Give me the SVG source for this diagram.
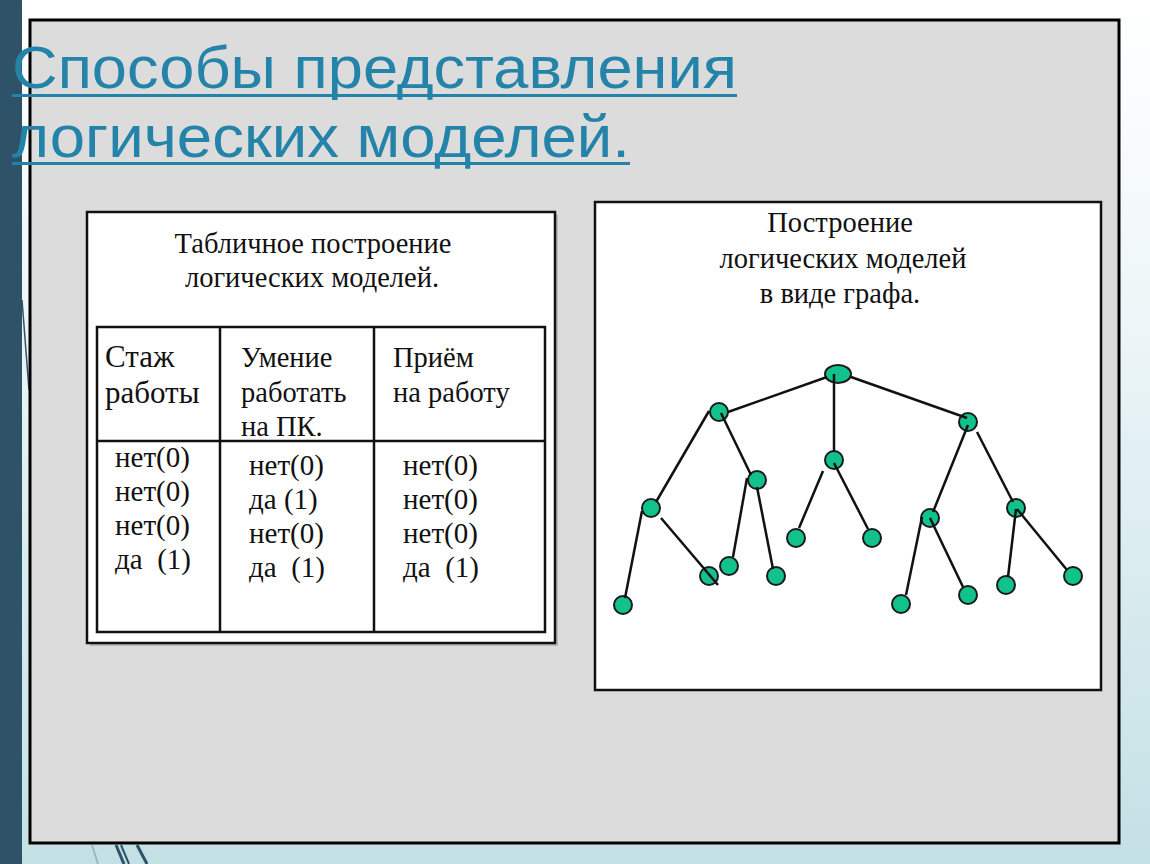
<svg xmlns="http://www.w3.org/2000/svg" width="1150" height="864" viewBox="0 0 1150 864">
<defs>
<linearGradient id="bg" x1="0" y1="0" x2="0" y2="1">
<stop offset="0" stop-color="#ffffff"/>
<stop offset="0.35" stop-color="#eef6f8"/>
<stop offset="1" stop-color="#c3e0e5"/>
</linearGradient>
<style>
.title{font-family:"Liberation Sans","DejaVu Sans",sans-serif;font-size:60px;fill:#2483a8}
.ser{font-family:"Liberation Serif","Times New Roman",serif;fill:#111;white-space:pre}
.cap{font-size:28.5px}
.hd{font-size:28.5px}
.hd1{font-size:31px}
.bd{font-size:29px}
.frame{fill:#fff;stroke:#111;stroke-width:2.5}
.grid{fill:none;stroke:#111;stroke-width:2.5}
.node{fill:#12c28c;stroke:#1a1a1a;stroke-width:2}
.edge{stroke:#111;stroke-width:2.5;fill:none}
</style>
</defs>
<rect x="0" y="0" width="1150" height="864" fill="url(#bg)"/>
<rect x="0" y="0" width="22" height="864" fill="#2e5369"/>
<line x1="22" y1="300" x2="29" y2="390" stroke="#2e5369" stroke-width="1.5"/>
<line x1="92" y1="845" x2="98" y2="864" stroke="#9fb8c2" stroke-width="2"/>
<line x1="116" y1="845" x2="124" y2="864" stroke="#2e5369" stroke-width="3"/>
<line x1="121" y1="845" x2="129" y2="864" stroke="#2e5369" stroke-width="2"/>
<line x1="137" y1="845" x2="147" y2="864" stroke="#2e5369" stroke-width="3"/>
<rect x="30" y="20" width="1089" height="823" fill="#dcdcdc" stroke="#000" stroke-width="3"/>

<g id="title">
<text class="title" x="12" y="88" textLength="725" lengthAdjust="spacingAndGlyphs">Способы представления</text>
<rect x="12" y="94" width="725" height="3" fill="#2483a8"/>
<text class="title" x="12" y="157" textLength="618" lengthAdjust="spacingAndGlyphs">логических моделей.</text>
<rect x="12" y="162" width="618" height="3" fill="#2483a8"/>
</g>

<g id="table-panel">
<rect x="90" y="215" width="468" height="431" fill="#b8b8b8"/>
<rect class="frame" x="87" y="212" width="468" height="431"/>
<text class="ser cap" x="313" y="253" text-anchor="middle">Табличное построение</text>
<text class="ser cap" x="312" y="287" text-anchor="middle">логических моделей.</text>
<rect class="grid" x="97" y="327" width="448" height="305"/>
<line class="grid" x1="220" y1="327" x2="220" y2="632"/>
<line class="grid" x1="374" y1="327" x2="374" y2="632"/>
<line class="grid" x1="97" y1="441" x2="545" y2="441"/>
<text class="ser hd1" x="105" y="367">Стаж</text>
<text class="ser hd1" x="105" y="403">работы</text>
<text class="ser hd" x="241" y="367">Умение</text>
<text class="ser hd" x="241" y="402">работать</text>
<text class="ser hd" x="241" y="436">на ПК.</text>
<text class="ser hd" x="393" y="367">Приём</text>
<text class="ser hd" x="393" y="402">на работу</text>
<text class="ser bd" x="115" y="467">нет(0)</text>
<text class="ser bd" x="115" y="501">нет(0)</text>
<text class="ser bd" x="115" y="535">нет(0)</text>
<text class="ser bd" x="115" y="569">да  (1)</text>
<text class="ser bd" x="249" y="475">нет(0)</text>
<text class="ser bd" x="249" y="509">да (1)</text>
<text class="ser bd" x="249" y="543">нет(0)</text>
<text class="ser bd" x="249" y="577">да  (1)</text>
<text class="ser bd" x="403" y="475">нет(0)</text>
<text class="ser bd" x="403" y="509">нет(0)</text>
<text class="ser bd" x="403" y="543">нет(0)</text>
<text class="ser bd" x="403" y="577">да  (1)</text>
</g>

<g id="graph-panel">
<rect class="frame" x="595" y="202" width="506" height="488"/>
<text class="ser cap" x="840" y="232" text-anchor="middle">Построение</text>
<text class="ser cap" x="843" y="268" text-anchor="middle">логических моделей</text>
<text class="ser cap" x="840" y="303" text-anchor="middle">в виде графа.</text>
</g>

<g id="nodes">
<ellipse id="n-root" class="node" cx="838" cy="374" rx="13" ry="9"/>
<circle id="n-a" class="node" cx="719" cy="412" r="9"/>
<circle id="n-b" class="node" cx="834" cy="460" r="9"/>
<circle id="n-c" class="node" cx="968" cy="422" r="9"/>
<circle id="n-a1" class="node" cx="651" cy="508" r="9"/>
<circle id="n-a2" class="node" cx="757" cy="480" r="9"/>
<circle id="n-a11" class="node" cx="623" cy="605" r="9"/>
<circle id="n-a12" class="node" cx="709" cy="576" r="9"/>
<circle id="n-a21" class="node" cx="729" cy="566" r="9"/>
<circle id="n-a22" class="node" cx="776" cy="576" r="9"/>
<circle id="n-b1" class="node" cx="796" cy="538" r="9"/>
<circle id="n-b2" class="node" cx="872" cy="538" r="9"/>
<circle id="n-c1" class="node" cx="930" cy="518" r="9"/>
<circle id="n-c2" class="node" cx="1016" cy="508" r="9"/>
<circle id="n-c11" class="node" cx="901" cy="604" r="9"/>
<circle id="n-c12" class="node" cx="968" cy="595" r="9"/>
<circle id="n-c21" class="node" cx="1006" cy="585" r="9"/>
<circle id="n-c22" class="node" cx="1073" cy="576" r="9"/>
</g>

<g id="connectors">
<line class="edge" x1="827" y1="377" x2="728" y2="412"/>
<line class="edge" x1="834" y1="374" x2="834" y2="452"/>
<line class="edge" x1="851" y1="377" x2="967" y2="418"/>
<line class="edge" x1="709" y1="411" x2="656" y2="502"/>
<line class="edge" x1="721" y1="413" x2="751" y2="475"/>
<line class="edge" x1="642" y1="511" x2="625" y2="598"/>
<line class="edge" x1="661" y1="518" x2="718" y2="585"/>
<line class="edge" x1="747" y1="478" x2="733" y2="557"/>
<line class="edge" x1="757" y1="487" x2="773" y2="569"/>
<line class="edge" x1="823" y1="471" x2="799" y2="528"/>
<line class="edge" x1="834" y1="463" x2="868" y2="529"/>
<line class="edge" x1="968" y1="425" x2="933" y2="512"/>
<line class="edge" x1="977" y1="432" x2="1013" y2="502"/>
<line class="edge" x1="922" y1="517" x2="906" y2="595"/>
<line class="edge" x1="930" y1="518" x2="963" y2="587"/>
<line class="edge" x1="1016" y1="509" x2="1008" y2="577"/>
<line class="edge" x1="1017" y1="509" x2="1067" y2="570"/>
</g>
</svg>
